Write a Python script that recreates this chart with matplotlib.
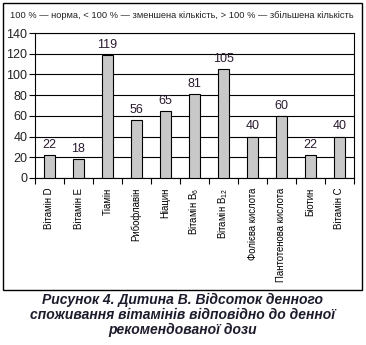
import matplotlib
matplotlib.use("Agg")
import matplotlib.pyplot as plt
import numpy as np
from matplotlib.patches import Rectangle

plt.rcParams['font.family'] = ['Liberation Sans', 'DejaVu Sans']
plt.rcParams['mathtext.fontset'] = 'custom'
plt.rcParams['mathtext.rm'] = 'Liberation Sans'
plt.rcParams['mathtext.it'] = 'Liberation Sans'

# vitamin intake, % of recommended daily dose
vitamins = ['Вітамін D', 'Вітамін E', 'Тіамін', 'Рибофлавін', 'Ніацин',
            'Вітамін B$_6$', 'Вітамін B$_{12}$', 'Фолієва кислота',
            'Пантотенова кислота', 'Біотин', 'Вітамін C']
percent = [22, 18, 119, 56, 65, 81, 105, 40, 60, 22, 40]
yticks = [0, 20, 40, 60, 80, 100, 120, 140]

header = '100 % — норма, < 100 % — зменшена кількість, > 100 % — збільшена кількість'
caption = ('Рисунок 4. Дитина В. Відсоток денного\n'
           'споживання вітамінів відповідно до денної\n'
           'рекомендованої дози')

fig = plt.figure(figsize=(3.66, 3.45), dpi=100)

# frame around header and chart
fig.add_artist(Rectangle((3 / 366, 1 - 290 / 345), 359 / 366, 287 / 345,
                         transform=fig.transFigure, fill=False,
                         edgecolor='black', linewidth=1.0))
fig.text(10 / 366, 1 - 15 / 345, header, fontsize=6.7, va='center', ha='left',
         color='#222222')

ax = fig.add_axes([35 / 366, 1 - 178 / 345, 319 / 366, 145 / 345])
x = np.arange(len(vitamins))
ax.bar(x, percent, width=0.38, color='#c8c8c8', edgecolor='black', linewidth=0.8, zorder=3)
for xi, v in zip(x, percent):
    ax.text(xi, v + 4, str(v), ha='center', va='bottom', fontsize=9, color='#2a1a30')

ax.set_xlim(-0.5, len(vitamins) - 0.5)
ax.set_ylim(0, 140)
ax.set_yticks(yticks)
ax.yaxis.grid(True, color='black', linewidth=0.8, zorder=0)
ax.set_axisbelow(True)
ax.tick_params(axis='y', direction='out', length=4, width=0.8, labelsize=9, pad=1.5,
               labelcolor='#222222')

# ticks between categories, labels at centers
ax.set_xticks(np.arange(len(vitamins) + 1) - 0.5)
ax.set_xticklabels([])
ax.set_xticks(x, minor=True)
ax.set_xticklabels(vitamins, minor=True, rotation=90, fontsize=6.9, va='top')
ax.tick_params(axis='x', which='major', direction='out', length=4, width=0.8)
ax.tick_params(axis='x', which='minor', length=0, pad=7)
for s in ax.spines.values():
    s.set_linewidth(0.8)

fig.text(0.5, 1 - 315 / 345, caption, ha='center', va='center', fontsize=10,
         fontweight='bold', fontstyle='italic', color='#1c1c2c', linespacing=1.1)

fig.savefig('out.png', dpi=100)
